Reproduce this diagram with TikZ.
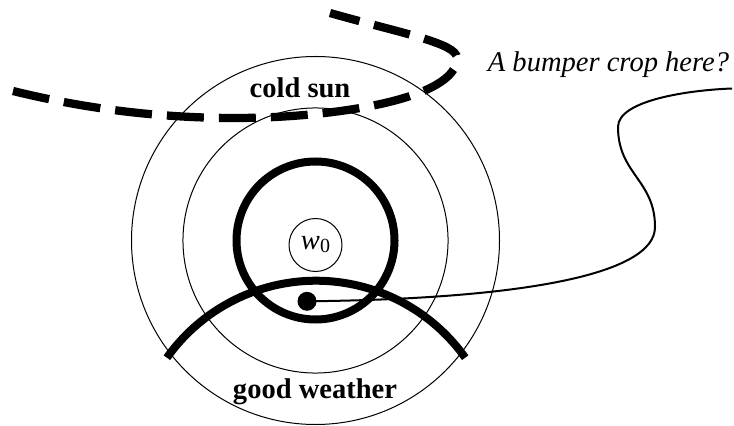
\documentclass[tikz,border=0pt]{standalone}
\usepackage{fontspec}
\setmainfont{Liberation Serif}
\begin{document}
\begin{tikzpicture}[x=0.75pt,y=0.75pt,
  thinring/.style={line width=0.75pt},
  thickring/.style={line width=6pt},
  sunpath/.style={line width=6.2pt, dash pattern=on 27.75pt off 11.25pt},
  wire/.style={line width=1.5pt},
  boldlabel/.style={font=\fontsize{21.4pt}{25pt}\selectfont\bfseries, inner sep=0pt},
  itallabel/.style={font=\fontsize{21.4pt}{25pt}\selectfont\itshape, inner sep=0pt},
  worldnode/.style={circle, draw, line width=0.75pt, minimum size=39.75pt, inner sep=0pt,
                    font=\fontsize{21.4pt}{25pt}\selectfont},
  dotnode/.style={circle, fill=black, minimum size=14.25pt, inner sep=0pt}]
\useasboundingbox (0,0) rectangle (734,425);
% concentric rings
\coordinate (c) at (315.5,184.5);
\draw[thinring] (c) circle[radius=138pt];
\draw[thinring] (c) circle[radius=99.4pt];
\draw[thickring] (c) circle[radius=59.25pt];
% world w0
\node[worldnode] (w0) at (315.5,180) {\itshape w\/\upshape\raisebox{-2.25pt}{\fontsize{15pt}{15pt}\selectfont 0}};
% good weather arc
\coordinate (gwL) at (166.9,67.3);
\draw[thickring] (gwL) arc[start angle=144.6, end angle=35.4, radius=137.25pt];
% cold sun dashed region
\coordinate (csS) at (13,334);
\coordinate (csE) at (330,412);
\draw[sunpath] (csS) .. controls (86,316) and (160,307) .. (235,307)
  .. controls (330,307) and (457,325) .. (457,367)
  .. controls (457,382) and (400,392) .. (csE);
% dot and wire
\node[dotnode] (dot) at (307,123.7) {};
\coordinate (tail) at (732,336.5);
\draw[wire] (dot.center) .. controls (520,126) and (655,150) .. (655,198)
  .. controls (655,245) and (618,251) .. (618,298)
  .. controls (618,325) and (690,335) .. (tail);
% labels
\node[boldlabel, anchor=base] (cold) at (300,327.5) {cold sun};
\node[boldlabel, anchor=base] (good) at (315,27) {good weather};
\node[itallabel, anchor=base] (bumper) at (608.5,353) {A bumper crop here?};
\end{tikzpicture}
\end{document}
